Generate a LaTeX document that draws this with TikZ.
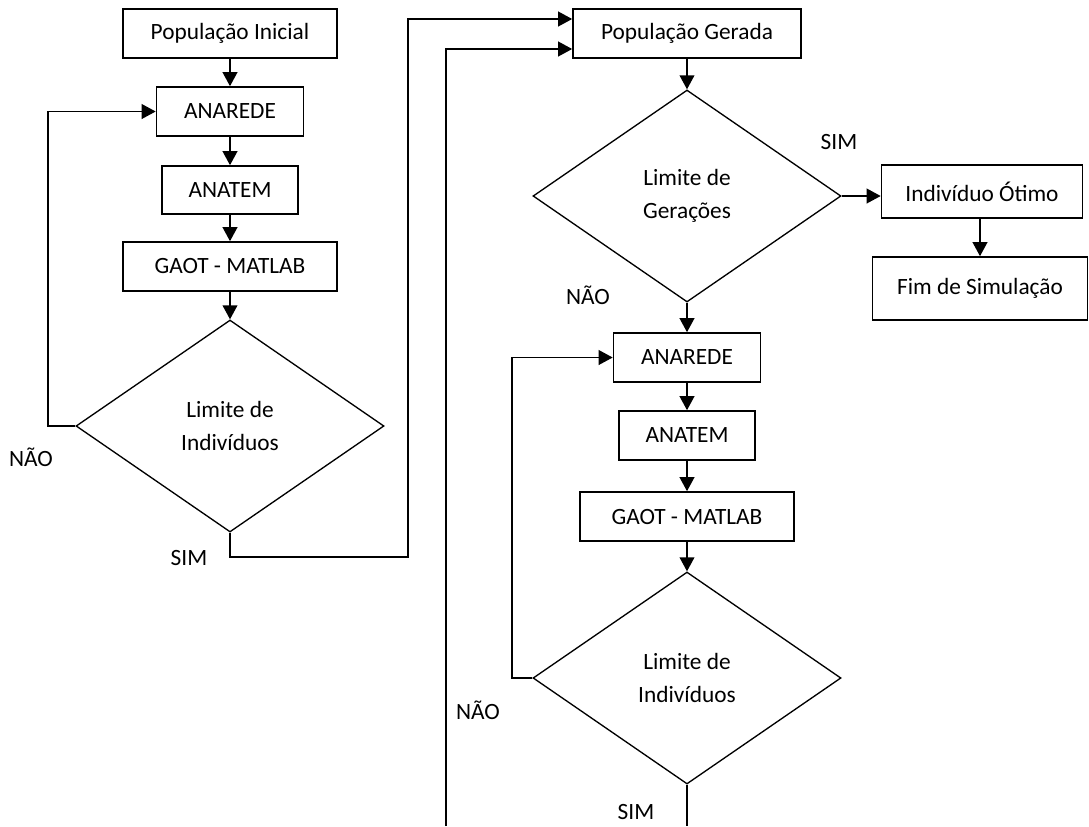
\documentclass[tikz,border=0pt]{standalone}
\usepackage{fontspec}
\setmainfont{Carlito}
\usepackage{tikz}
\usetikzlibrary{shapes.geometric,arrows.meta,calc,positioning}

\begin{document}
\begin{tikzpicture}[x=0.75pt, y=-0.75pt,
        box/.style={rectangle, draw, line width=1.2pt, minimum height=36.75pt, inner sep=0pt, text centered, font=\fontsize{17.5}{25}\selectfont},
        decision/.style={diamond, draw, line width=1pt, minimum width=231pt, minimum height=159pt, inner sep=0pt, align=center, font=\fontsize{17.5}{25}\selectfont},
        lbl/.style={font=\fontsize{17.5}{25}\selectfont, inner sep=0pt},
        arr/.style={->, >={Triangle[length=10.5pt, width=11pt]}, line width=1.3pt},
        link/.style={line width=1.1pt},
    ]
        \useasboundingbox (0,0) rectangle (1089,826);

        % Primeira fase: populacao inicial
        \node[box, minimum width=160.5pt] (popini) at (230, 33.5) {População Inicial};
        \node[box, minimum width=110.25pt] (anarede1) at (230, 111.5) {ANAREDE};
        \node[box, minimum width=102pt, minimum height=36pt] (anatem1) at (230, 190) {ANATEM};
        \node[box, minimum width=160.5pt] (gaot1) at (230, 266.5) {GAOT - MATLAB};
        \node[decision] (limind1) at (230, 426) {Limite de\\Indivíduos};
        \draw[arr] (popini) -- (anarede1);
        \draw[arr] (anarede1) -- (anatem1);
        \draw[arr] (anatem1) -- (gaot1);
        \draw[arr] (gaot1) -- (limind1);
        \draw[arr] (limind1.west) -- ++(-27,0) |- (anarede1.west);
        \node[lbl] (nao1) at (31, 457) {NÃO};
        \node[lbl] (sim1) at (189, 558) {SIM};

        % Segunda fase: geracoes
        \node[box, minimum width=171pt] (popger) at (687, 33.5) {População Gerada};
        \coordinate (popin1) at ($(popger.west)+(0,-14.5)$);
        \coordinate (popin2) at ($(popger.west)+(0,15.5)$);
        \draw[arr] (limind1.south) -- ++(0,24) -| ($(popin1)+(-164,0)$) -- (popin1);
        \node[decision] (limger) at (687, 196) {Limite de\\Gerações};
        \draw[arr] (popger) -- (limger);
        \node[lbl] (sim2) at (839, 142) {SIM};
        \node[lbl] (nao2) at (588, 295) {NÃO};
        \node[box, minimum width=150.75pt, minimum height=39.75pt] (otimo) at (982, 191.5) {Indivíduo Ótimo};
        \node[box, minimum width=161.25pt, minimum height=47.25pt] (fimsim) at (980, 288.5) {Fim de Simulação};
        \draw[arr] (limger.east) -- (limger.east -| otimo.west);
        \draw[arr] (otimo.south -| fimsim.north) -- (fimsim.north);

        \node[box, minimum width=110.25pt] (anarede2) at (687, 357.5) {ANAREDE};
        \node[box, minimum width=102pt] (anatem2) at (687, 435.5) {ANATEM};
        \node[box, minimum width=160.5pt] (gaot2) at (687, 516.5) {GAOT - MATLAB};
        \node[decision] (limind2) at (687, 678) {Limite de\\Indivíduos};
        \draw[arr] (limger) -- (anarede2);
        \draw[arr] (anarede2) -- (anatem2);
        \draw[arr] (anatem2) -- (gaot2);
        \draw[arr] (gaot2) -- (limind2);
        \draw[arr] (limind2.west) -- ++(-20,0) |- (anarede2.west);
        \node[lbl] (nao3) at (478, 710) {NÃO};
        \node[lbl] (sim3) at (636, 812) {SIM};

        % retorno cortado na borda inferior
        \coordinate (cutsim) at (687, 826);
        \coordinate (cutret) at (446, 826);
        \draw[link] (limind2.south) -- (cutsim);
        \draw[arr] (cutret) |- (popin2);
    \end{tikzpicture}
\end{document}
